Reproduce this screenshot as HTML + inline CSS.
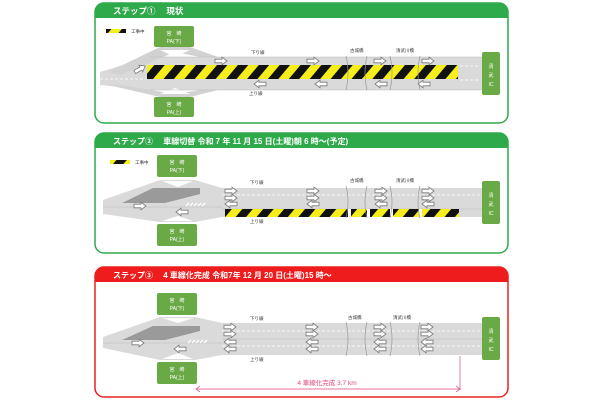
<!DOCTYPE html>
<html><head><meta charset="utf-8"><style>
html,body{margin:0;padding:0;background:#fff;}
svg{display:block;font-family:"Liberation Sans","Noto Sans CJK JP",sans-serif;}
</style></head><body>
<svg width="600" height="400" viewBox="0 0 600 400" xmlns="http://www.w3.org/2000/svg">
<defs>
<pattern id="hz" width="16" height="16" patternUnits="userSpaceOnUse" patternTransform="rotate(40)">
<rect width="16" height="16" fill="#f5ee1a"/><rect width="8" height="16" fill="#111"/>
</pattern>
<path id="ar" d="M-6,-1.8 h7 v-2 l5,3.8 -5,3.8 v-2 h-7z" fill="#fff" stroke="#777" stroke-width="0.8"/>
<path id="al" d="M6,-1.8 h-7 v-2 l-5,3.8 5,3.8 v-2 h7z" fill="#fff" stroke="#777" stroke-width="0.8"/>
</defs>

<!-- ============ PANEL 1 ============ -->
<rect x="95" y="3" width="413" height="120" rx="9" fill="#fff" stroke="#2eaa4a" stroke-width="1.5"/>
<path d="M95,18 V12 a9,9 0 0 1 9,-9 H499 a9,9 0 0 1 9,9 V18 Z" fill="#2eaa4a"/>
<text x="113" y="14" font-size="8.5" font-weight="bold" fill="#fff">ステップ①　 現状</text>
<rect x="106" y="29" width="20" height="4" fill="url(#hz)"/>
<text x="131" y="33" font-size="4.5" fill="#333">工事中</text>
<!-- road -->
<path d="M100,72 L150,57 L482,57 L482,90 L150,90 L100,85 Z" fill="#dadada"/>
<path d="M108,72 L160,47 L190,47 L218,57 L200,57 L175,52 L120,75 Z" fill="#d2d2d2"/>
<path d="M108,85 L160,97 L190,97 L218,90 L200,90 L175,94 L120,85 Z" fill="#d2d2d2"/>
<polygon points="160,50 190,50 175,57" fill="#fff"/>
<polygon points="160,94 190,94 175,88" fill="#fff"/>
<line x1="150" y1="57" x2="482" y2="57" stroke="#bbb" stroke-width="0.6"/>
<line x1="150" y1="90" x2="482" y2="90" stroke="#bbb" stroke-width="0.6"/>
<line x1="100" y1="79" x2="146" y2="79" stroke="#fff" stroke-width="0.8" stroke-dasharray="3 2"/>
<line x1="460" y1="66" x2="480" y2="66" stroke="#fff" stroke-width="0.8" stroke-dasharray="3 2"/>
<line x1="460" y1="80" x2="480" y2="80" stroke="#fff" stroke-width="0.8" stroke-dasharray="3 2"/>
<rect x="147" y="65" width="311" height="14" fill="url(#hz)"/>
<use href="#ar" x="221" y="61"/><use href="#ar" x="313" y="61"/><use href="#ar" x="380" y="61"/><use href="#ar" x="428" y="61"/>
<use href="#al" x="260" y="84"/><use href="#al" x="321" y="84"/><use href="#al" x="381" y="84"/><use href="#al" x="424" y="84"/>
<use href="#ar" x="0" y="0" transform="translate(140,69) rotate(-30)"/>
<text x="251" y="54" font-size="4.5" fill="#333">下り線</text>
<text x="249" y="95" font-size="4.5" fill="#333">上り線</text>
<text x="350" y="52" font-size="4.5" fill="#333">古城橋</text>
<text x="396" y="52" font-size="4.5" fill="#333">清武川橋</text>
<g fill="none" stroke="#999" stroke-width="0.7">
<path d="M346,56 q4,17 0,34"/><path d="M367,56 q-4,17 0,34"/><path d="M390,56 q4,17 0,34"/><path d="M420,56 q-4,17 0,34"/>
</g>
<rect x="154" y="26" width="40" height="21" rx="2" fill="#6aaa46"/>
<text x="174" y="35" font-size="5" fill="#fff" text-anchor="middle">宮　崎</text>
<text x="174" y="43" font-size="5" fill="#fff" text-anchor="middle">PA(下)</text>
<rect x="154" y="97" width="40" height="20" rx="2" fill="#6aaa46"/>
<text x="174" y="106" font-size="5" fill="#fff" text-anchor="middle">宮　崎</text>
<text x="174" y="114" font-size="5" fill="#fff" text-anchor="middle">PA(上)</text>
<rect x="482" y="52" width="18" height="43" rx="2" fill="#6aaa46"/>
<text x="491" y="68" font-size="5" fill="#fff" text-anchor="middle">清</text>
<text x="491" y="77" font-size="5" fill="#fff" text-anchor="middle">武</text>
<text x="491" y="86" font-size="5" fill="#fff" text-anchor="middle">IC</text>

<!-- ============ PANEL 2 ============ -->
<rect x="95" y="133" width="413" height="120" rx="9" fill="#fff" stroke="#2eaa4a" stroke-width="1.5"/>
<path d="M95,148 V142 a9,9 0 0 1 9,-9 H499 a9,9 0 0 1 9,9 V148 Z" fill="#2eaa4a"/>
<text x="113" y="144" font-size="8" font-weight="bold" fill="#fff">ステップ②　 車線切替  令和 7 年 11 月 15 日(土曜)朝 6 時～(予定)</text>
<rect x="110" y="160" width="20" height="4" fill="url(#hz)"/>
<text x="135" y="164" font-size="4.5" fill="#333">工事中</text>
<path d="M103,200 L160,180 L195,180 L222,188 L482,188 L482,217 L222,217 L195,222 L160,222 L103,214 Z" fill="#dadada"/>
<polygon points="162,181 193,181 178,187" fill="#fff"/>
<polygon points="162,221 193,221 178,216" fill="#fff"/>
<polygon points="122,203 153,188 200,188 200,194 165,203" fill="#9a9a9a"/>
<line x1="103" y1="207" x2="222" y2="207" stroke="#bbb" stroke-width="0.6"/>
<line x1="222" y1="195" x2="482" y2="195" stroke="#fff" stroke-width="0.8" stroke-dasharray="3 2"/>
<line x1="222" y1="209" x2="482" y2="209" stroke="#bbb" stroke-width="0.6"/>
<g stroke="#fff" stroke-width="1.3"><line x1="186" y1="206" x2="189" y2="203"/><line x1="190" y1="206" x2="193" y2="203"/><line x1="194" y1="206" x2="197" y2="203"/><line x1="198" y1="206" x2="201" y2="203"/><line x1="202" y1="206" x2="205" y2="203"/></g>
<rect x="225" y="209" width="234" height="8" fill="url(#hz)"/>
<g fill="#fff"><rect x="348" y="209" width="3" height="8"/><rect x="367" y="209" width="3" height="8"/><rect x="390" y="209" width="3" height="8"/><rect x="419" y="209" width="3" height="8"/></g>
<use href="#ar" x="231" y="191"/><use href="#ar" x="231" y="198"/><use href="#al" x="231" y="204"/>
<use href="#ar" x="313" y="191"/><use href="#ar" x="313" y="198"/><use href="#al" x="313" y="204"/>
<use href="#ar" x="381" y="191"/><use href="#ar" x="381" y="198"/><use href="#al" x="381" y="204"/>
<use href="#ar" x="428" y="191"/><use href="#ar" x="428" y="198"/><use href="#al" x="428" y="204"/>
<use href="#ar" x="140" y="206"/><use href="#al" x="182" y="212"/>
<text x="250" y="184" font-size="4.5" fill="#333">下り線</text>
<text x="250" y="223" font-size="4.5" fill="#333">上り線</text>
<text x="350" y="182" font-size="4.5" fill="#333">古城橋</text>
<text x="396" y="182" font-size="4.5" fill="#333">清武川橋</text>
<g fill="none" stroke="#999" stroke-width="0.7">
<path d="M346,186 q4,16 0,32"/><path d="M367,186 q-4,16 0,32"/><path d="M390,186 q4,16 0,32"/><path d="M420,186 q-4,16 0,32"/>
</g>
<rect x="157" y="155" width="40" height="22" rx="2" fill="#6aaa46"/>
<text x="177" y="164" font-size="5" fill="#fff" text-anchor="middle">宮　崎</text>
<text x="177" y="172" font-size="5" fill="#fff" text-anchor="middle">PA(下)</text>
<rect x="157" y="224" width="40" height="22" rx="2" fill="#6aaa46"/>
<text x="177" y="233" font-size="5" fill="#fff" text-anchor="middle">宮　崎</text>
<text x="177" y="241" font-size="5" fill="#fff" text-anchor="middle">PA(上)</text>
<rect x="482" y="181" width="18" height="43" rx="2" fill="#6aaa46"/>
<text x="491" y="197" font-size="5" fill="#fff" text-anchor="middle">清</text>
<text x="491" y="206" font-size="5" fill="#fff" text-anchor="middle">武</text>
<text x="491" y="215" font-size="5" fill="#fff" text-anchor="middle">IC</text>

<!-- ============ PANEL 3 ============ -->
<rect x="95" y="267" width="413" height="130" rx="9" fill="#fff" stroke="#e8231e" stroke-width="1.5"/>
<path d="M95,282 V276 a9,9 0 0 1 9,-9 H499 a9,9 0 0 1 9,9 V282 Z" fill="#ee1c1c"/>
<text x="113" y="278" font-size="8" font-weight="bold" fill="#fff">ステップ③　 4 車線化完成  令和7年 12 月 20 日(土曜)15 時～</text>
<path d="M103,337 L160,317 L195,317 L222,323 L482,323 L482,355 L222,355 L195,360 L160,360 L103,348 Z" fill="#dadada"/>
<polygon points="162,318 193,318 178,323" fill="#fff"/>
<polygon points="162,359 193,359 178,353" fill="#fff"/>
<polygon points="122,340 153,326 200,326 200,331 165,340" fill="#9a9a9a"/>
<line x1="103" y1="343" x2="222" y2="343" stroke="#bbb" stroke-width="0.6"/>
<line x1="222" y1="331" x2="482" y2="331" stroke="#fff" stroke-width="0.8" stroke-dasharray="3 2"/>
<line x1="222" y1="339" x2="482" y2="339" stroke="#bbb" stroke-width="0.6"/>
<line x1="222" y1="346" x2="482" y2="346" stroke="#fff" stroke-width="0.8" stroke-dasharray="3 2"/>
<g stroke="#fff" stroke-width="1.3"><line x1="188" y1="343" x2="191" y2="340"/><line x1="192" y1="343" x2="195" y2="340"/><line x1="196" y1="343" x2="199" y2="340"/><line x1="200" y1="343" x2="203" y2="340"/><line x1="204" y1="343" x2="207" y2="340"/></g>
<g>
<use href="#ar" x="230" y="327"/><use href="#ar" x="230" y="334"/><use href="#al" x="230" y="342"/><use href="#al" x="230" y="349"/>
<use href="#ar" x="312" y="327"/><use href="#ar" x="312" y="334"/><use href="#al" x="312" y="342"/><use href="#al" x="312" y="349"/>
<use href="#ar" x="380" y="327"/><use href="#ar" x="380" y="334"/><use href="#al" x="380" y="342"/><use href="#al" x="380" y="349"/>
<use href="#ar" x="427" y="327"/><use href="#ar" x="427" y="334"/><use href="#al" x="427" y="342"/><use href="#al" x="427" y="349"/>
</g>
<use href="#ar" x="138" y="343"/><use href="#al" x="180" y="349"/>
<text x="250" y="320" font-size="4.5" fill="#333">下り線</text>
<text x="250" y="361" font-size="4.5" fill="#333">上り線</text>
<text x="348" y="319" font-size="4.5" fill="#333">古城橋</text>
<text x="393" y="319" font-size="4.5" fill="#333">清武川橋</text>
<g fill="none" stroke="#999" stroke-width="0.7">
<path d="M346,322 q4,17 0,34"/><path d="M367,322 q-4,17 0,34"/><path d="M390,322 q4,17 0,34"/><path d="M420,322 q-4,17 0,34"/>
</g>
<rect x="157" y="293" width="40" height="22" rx="2" fill="#6aaa46"/>
<text x="177" y="302" font-size="5" fill="#fff" text-anchor="middle">宮　崎</text>
<text x="177" y="310" font-size="5" fill="#fff" text-anchor="middle">PA(下)</text>
<rect x="157" y="362" width="40" height="22" rx="2" fill="#6aaa46"/>
<text x="177" y="371" font-size="5" fill="#fff" text-anchor="middle">宮　崎</text>
<text x="177" y="379" font-size="5" fill="#fff" text-anchor="middle">PA(上)</text>
<rect x="482" y="317" width="18" height="43" rx="2" fill="#6aaa46"/>
<text x="491" y="333" font-size="5" fill="#fff" text-anchor="middle">清</text>
<text x="491" y="342" font-size="5" fill="#fff" text-anchor="middle">武</text>
<text x="491" y="351" font-size="5" fill="#fff" text-anchor="middle">IC</text>
<g stroke="#e0457a" stroke-width="0.7" fill="none">
<line x1="460" y1="356" x2="460" y2="390"/>
<line x1="196" y1="389" x2="460" y2="389"/>
<path d="M200,386 l-4,3 4,3"/><path d="M456,386 l4,3 -4,3"/>
</g>
<text x="327" y="385" font-size="6.5" fill="#e0457a" text-anchor="middle">4 車線化完成  3.7 km</text>
</svg>
</body></html>
